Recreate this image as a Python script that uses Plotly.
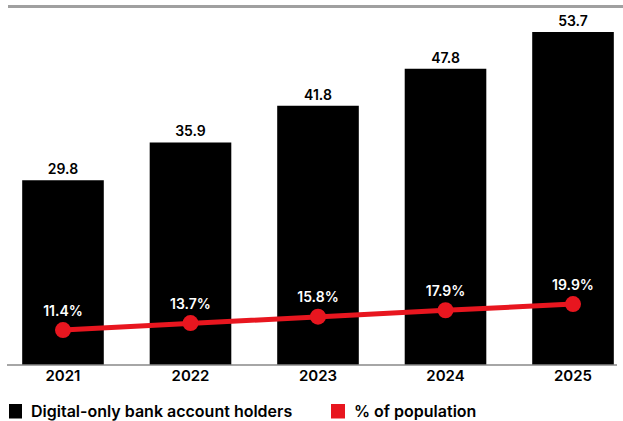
import plotly.graph_objects as go

years = ["2021", "2022", "2023", "2024", "2025"]
holders = [29.8, 35.9, 41.8, 47.8, 53.7]
pct = [11.4, 13.7, 15.8, 17.9, 19.9]
pct_labels = ["11.4%", "13.7%", "15.8%", "17.9%", "19.9%"]
holder_labels = ["29.8", "35.9", "41.8", "47.8", "53.7"]

FONT = "Inter"
RED = "#e8161f"
xs = list(range(len(years)))

fig = go.Figure()
fig.add_trace(go.Bar(
    x=xs, y=holders, marker=dict(color="black", line=dict(width=0)),
    text=holder_labels, textposition="outside",
    textfont=dict(family=FONT, size=14, color="black", weight=600),
    width=0.64, showlegend=False, hoverinfo="skip",
))
fig.add_trace(go.Scatter(
    x=xs, y=pct, yaxis="y2", mode="lines+markers+text",
    line=dict(color=RED, width=5), marker=dict(color=RED, size=16),
    text=pct_labels, textposition="top center",
    textfont=dict(family=FONT, size=14, color="white", weight=600),
    showlegend=False, hoverinfo="skip",
))

fig.update_layout(
    width=623, height=421,
    margin=dict(l=0, r=0, t=0, b=56),
    paper_bgcolor="white", plot_bgcolor="white",
    font=dict(family=FONT, color="black"),
    xaxis=dict(range=[-0.494, 4.392], tickvals=xs, ticktext=years,
               showgrid=False, zeroline=False, showline=False, ticks="",
               tickfont=dict(family=FONT, size=15, color="black", weight=600)),
    yaxis=dict(range=[0, 58.87], visible=False, showgrid=False),
    yaxis2=dict(range=[0, 119.3], overlaying="y", visible=False, showgrid=False),
    bargap=0.36,
)

leg_y = 411
shapes = [
    # baseline
    dict(type="line", xref="paper", yref="paper", x0=7/623, x1=617/623,
         y0=0, y1=0, line=dict(color="#888888", width=1.5)),
    # top rule
    dict(type="rect", xref="paper", yref="paper", x0=8/623, x1=1,
         y0=(365-8)/365, y1=(365-5)/365, fillcolor="#a0a0a0",
         line=dict(width=0), layer="above"),
    # legend swatches
    dict(type="rect", xref="paper", yref="paper",
         x0=9/623, x1=22/623, y0=-(leg_y+7.5-365)/365, y1=-(leg_y-7-365)/365,
         fillcolor="black", line=dict(width=0)),
    dict(type="rect", xref="paper", yref="paper",
         x0=331/623, x1=345/623, y0=-(leg_y+7.5-365)/365, y1=-(leg_y-7-365)/365,
         fillcolor=RED, line=dict(width=0)),
]
fig.update_layout(shapes=shapes)

fig.add_annotation(xref="paper", yref="paper", x=29/623, y=-(leg_y-365)/365,
                   xanchor="left", yanchor="middle", showarrow=False,
                   text="Digital-only bank account holders",
                   font=dict(family=FONT, size=16, color="black", weight=600))
fig.add_annotation(xref="paper", yref="paper", x=352/623, y=-(leg_y-365)/365,
                   xanchor="left", yanchor="middle", showarrow=False,
                   text="% of population",
                   font=dict(family=FONT, size=16, color="black", weight=600))

fig.write_html("out.html")
